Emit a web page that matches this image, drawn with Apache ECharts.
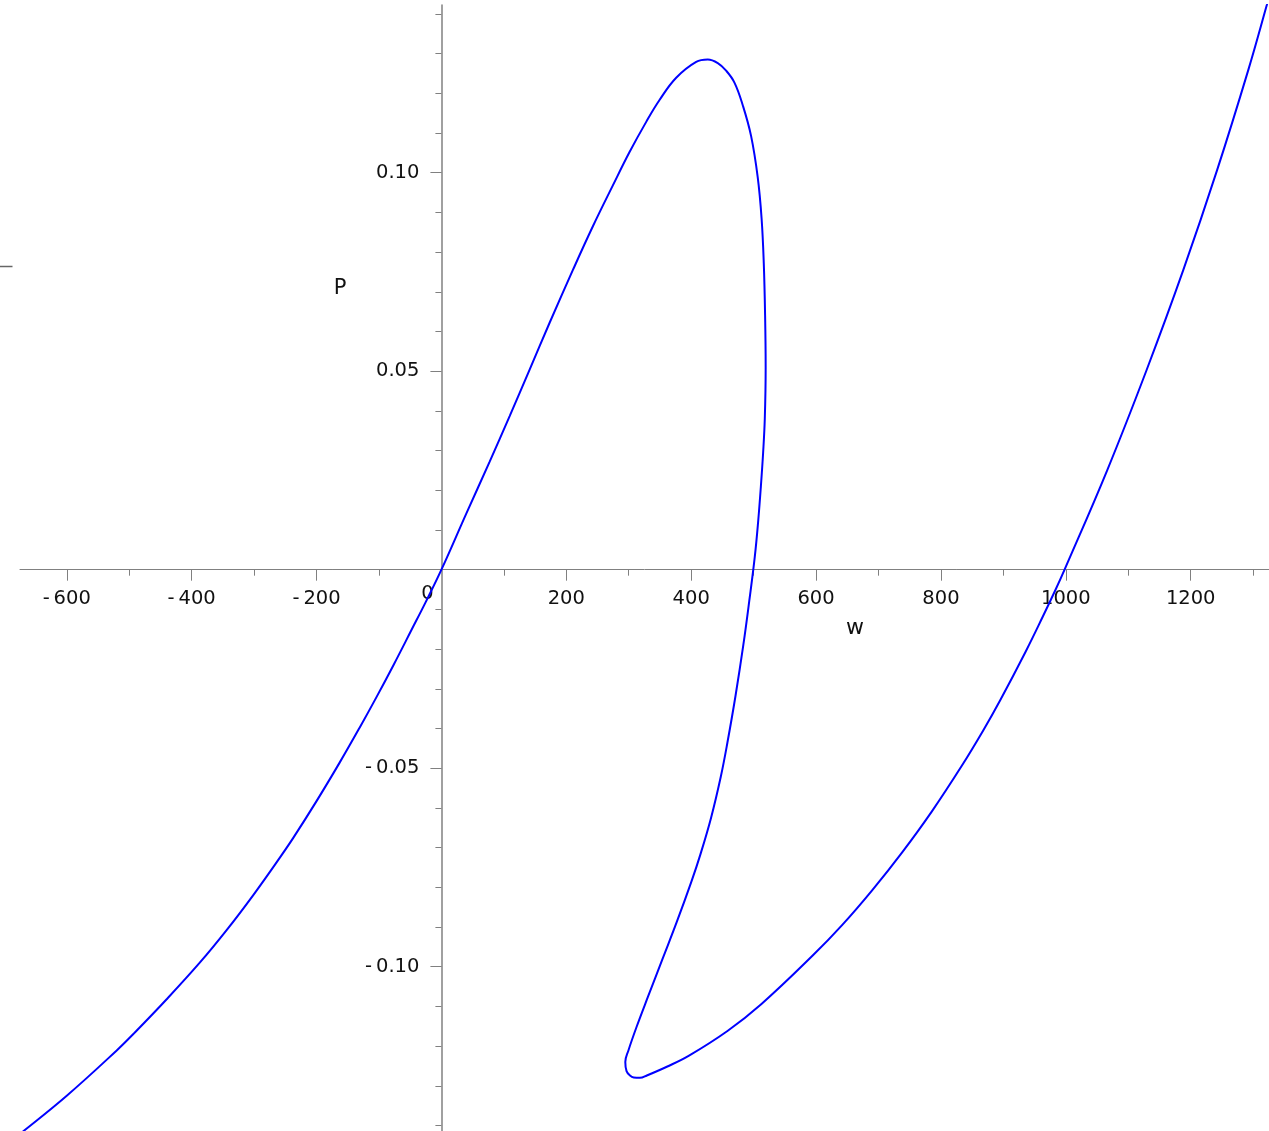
<!DOCTYPE html>
<html>
<head>
<meta charset="utf-8">
<script src="https://cdn.jsdelivr.net/npm/echarts@6/dist/echarts.min.js"></script>
<style>
html,body{margin:0;padding:0;background:#fff;}
#chart{width:1269px;height:1131px;}
</style>
</head>
<body>
<div id="chart"></div>
<script>
// ---- Data (parametric curve w -> P) ----
const wValues = [-700, -674.7, -600, -520, -493, -440, -387, -344, -301, -259, -237, -200, -163, -131, -104, -76, -48, -25, 0,
  40, 77.3, 109.3, 141.3, 173.3, 210.6, 242.6, 274.6, 301.3, 328, 349.3, 376, 408, 426.6,
  442.6, 456, 469.3, 482.6, 496, 506.6, 512.8, 516.3, 518.4, 519.3, 517.9, 515.2, 511.5, 507.2, 501.9, 493.1, 483.6, 471.1, 458.0,
  447.5, 432.0, 414.8, 400.5, 376.8, 354.0, 331.0, 312.5, 299.5, 294.5, 296.5, 302, 308, 318, 329, 361, 396.6,
  458.1, 512.6, 594.6, 642.4, 690.1, 737.9, 785.8, 833.4, 867.7, 894.9, 935.8, 963.2, 983.7, 998,
  1066.4, 1129.4, 1188.2, 1242.4, 1292.3, 1322, 1335];
const pValues = [-0.1453, -0.1421, -0.1325, -0.1211, -0.1169, -0.1082, -0.0990, -0.0908, -0.0819, -0.0726, -0.0675, -0.0583, -0.0486, -0.0398, -0.0321, -0.0238, -0.0152, -0.0081, 0,
  0.0142, 0.0272, 0.0387, 0.0504, 0.0622, 0.0755, 0.0865, 0.0968, 0.1052, 0.1128, 0.1183, 0.1239, 0.1279, 0.1285,
  0.1276, 0.1257, 0.1227, 0.1170, 0.1092, 0.0988, 0.0884, 0.0771, 0.0640, 0.0510, 0.0380, 0.0294, 0.0207, 0.0120, 0.0033, -0.0078, -0.0189, -0.0317, -0.0436,
  -0.0521, -0.0624, -0.0717, -0.0785, -0.0888, -0.0981, -0.1075, -0.1152, -0.1211, -0.1240, -0.1263, -0.1274, -0.1279, -0.1280, -0.1274, -0.1252, -0.1224,
  -0.1162, -0.1094, -0.0972, -0.0894, -0.0807, -0.0712, -0.0608, -0.0494, -0.0405, -0.0329, -0.0206, -0.0118, -0.0050, 0,
  0.0251, 0.0503, 0.0755, 0.1007, 0.1259, 0.1423, 0.1497];

// Axis ranges, ticks and labels
const xRange = [-674.9, 1325.4];
const yRange = [-0.14139, 0.14224];
const xMajorTicks = [-600, -400, -200, 200, 400, 600, 800, 1000, 1200];
const xTickLabels = ['-\u2009600', '-\u2009400', '-\u2009200', '200', '400', '600', '800', '1000', '1200'];
const xMinorTicks = [-600, -500, -400, -300, -200, -100, 100, 200, 300, 400, 500, 600, 700, 800, 900, 1000, 1100, 1200, 1300];
const yMajorTicks = [-0.10, -0.05, 0.05, 0.10];
const yTickLabels = ['-\u20090.10', '-\u20090.05', '0.05', '0.10'];
const yMinorTicks = [-0.14, -0.13, -0.12, -0.11, -0.10, -0.09, -0.08, -0.07, -0.06, -0.05, -0.04, -0.03, -0.02, -0.01,
  0.01, 0.02, 0.03, 0.04, 0.05, 0.06, 0.07, 0.08, 0.09, 0.10, 0.11, 0.12, 0.13, 0.14];
const xName = 'w';
const yName = 'P';
const originLabel = '0';

const FONT = 'DejaVu Sans';
const AXIS_COLOR = '#808080';
const TEXT_COLOR = '#111111';

// grid geometry (layout only)
const GRID = {left: 20, right: 0, top: 5, bottom: 0};
const W = 1269, H = 1131;
const gridW = W - GRID.left - GRID.right;
const gridH = H - GRID.top - GRID.bottom;
// axes cross at the data origin: offsets derived from the axis ranges
const xAxisOffset = -gridH * (0 - yRange[0]) / (yRange[1] - yRange[0]);
const yAxisOffset = -gridW * (0 - xRange[0]) / (xRange[1] - xRange[0]);

const chart = echarts.init(document.getElementById('chart'), null, {renderer: 'canvas', width: W, height: H});
const curve = wValues.map((w, i) => [w, pValues[i]]);

function lookup(ticks, labels) {
  return function (v) {
    for (let i = 0; i < ticks.length; i++) {
      if (Math.abs(ticks[i] - v) < 1e-9) return labels[i];
    }
    return '';
  };
}

chart.setOption({
  animation: false,
  backgroundColor: '#ffffff',
  grid: {left: GRID.left, right: GRID.right, top: GRID.top, bottom: GRID.bottom, containLabel: false, outerBoundsMode: 'none'},
  xAxis: [
    {
      type: 'value', min: xRange[0], max: xRange[1], position: 'bottom', offset: xAxisOffset,
      axisLine: {show: true, onZero: false, lineStyle: {color: AXIS_COLOR, width: 1}},
      axisTick: {show: true, customValues: xMajorTicks, length: 11, lineStyle: {color: AXIS_COLOR, width: 1}},
      axisLabel: {show: true, customValues: xMajorTicks, formatter: lookup(xMajorTicks, xTickLabels),
        fontFamily: FONT, fontSize: 19.5, color: TEXT_COLOR, margin: 19, hideOverlap: false},
      splitLine: {show: false}
    },
    {
      type: 'value', min: xRange[0], max: xRange[1], position: 'bottom', offset: xAxisOffset,
      axisLine: {show: false, onZero: false},
      axisTick: {show: true, customValues: xMinorTicks, length: 6, lineStyle: {color: AXIS_COLOR, width: 1}},
      axisLabel: {show: false},
      splitLine: {show: false}
    }
  ],
  yAxis: [
    {
      type: 'value', min: yRange[0], max: yRange[1], position: 'left', offset: yAxisOffset,
      axisLine: {show: true, onZero: false, lineStyle: {color: AXIS_COLOR, width: 1.5}},
      axisTick: {show: true, customValues: yMajorTicks, length: 11, lineStyle: {color: AXIS_COLOR, width: 1}},
      axisLabel: {show: true, customValues: yMajorTicks, formatter: lookup(yMajorTicks, yTickLabels),
        fontFamily: FONT, fontSize: 19.5, color: TEXT_COLOR, margin: 22, hideOverlap: false},
      splitLine: {show: false}
    },
    {
      type: 'value', min: yRange[0], max: yRange[1], position: 'left', offset: yAxisOffset,
      axisLine: {show: false, onZero: false},
      axisTick: {show: true, customValues: yMinorTicks, length: 6, lineStyle: {color: AXIS_COLOR, width: 1}},
      axisLabel: {show: false},
      splitLine: {show: false}
    }
  ],
  graphic: [
    {type: 'text', x: 340, y: 289, silent: true,
      style: {text: yName, fontFamily: FONT, fontSize: 21, fill: TEXT_COLOR, align: 'center', verticalAlign: 'middle'}},
    {type: 'text', x: 855, y: 628, silent: true,
      style: {text: xName, fontFamily: FONT, fontSize: 22, fill: TEXT_COLOR, align: 'center', verticalAlign: 'middle'}},
    {type: 'text', x: 427.5, y: 593.5, silent: true,
      style: {text: originLabel, fontFamily: FONT, fontSize: 19.5, fill: TEXT_COLOR, align: 'center', verticalAlign: 'middle'}},
    {type: 'line', silent: true, shape: {x1: 0, y1: 266.5, x2: 12.5, y2: 266.5},
      style: {stroke: '#666', lineWidth: 1.5}}
  ],
  series: [{
    type: 'line',
    xAxisIndex: 0, yAxisIndex: 0,
    data: curve,
    showSymbol: false,
    smooth: 0.4,
    clip: true,
    lineStyle: {color: '#0000ff', width: 2},
    emphasis: {disabled: true}
  }]
});
</script>
</body>
</html>
